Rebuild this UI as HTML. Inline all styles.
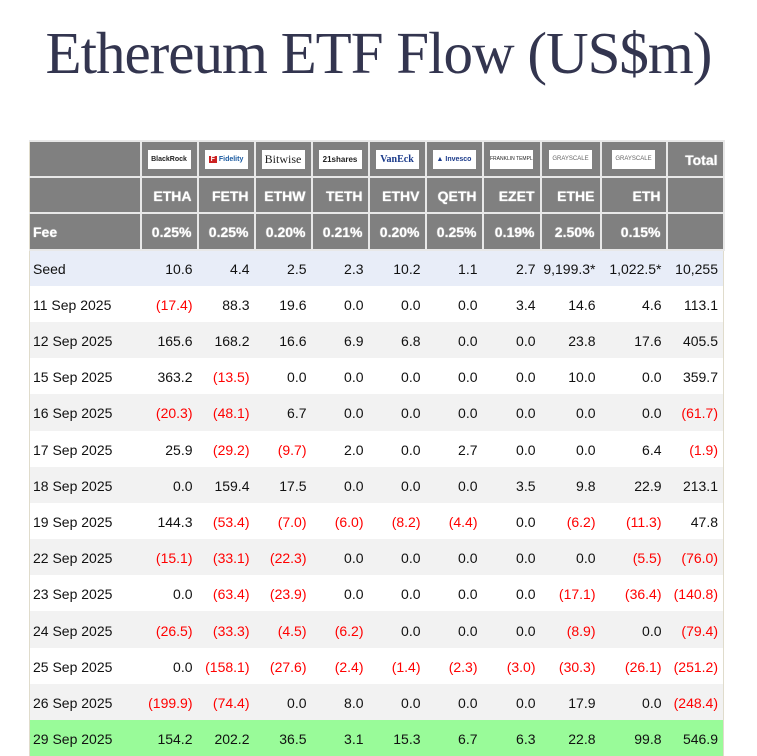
<!DOCTYPE html>
<html><head><meta charset="utf-8"><style>
body{margin:0;width:757px;height:755px;background:#fff;overflow:hidden;position:relative;font-family:"Liberation Sans",Arial,sans-serif}
h1{position:absolute;top:19px;left:0;width:757px;margin:0;text-align:center;font:normal 59px "Liberation Serif",serif;color:#33354f;letter-spacing:-1px}
table{position:absolute;left:29px;top:140px;border-collapse:collapse;table-layout:fixed;border-left:1px solid #e0dccc;border-right:1px solid #e0dccc}
td{height:36.2px;padding:2px 5px 0 0;box-sizing:border-box;font-size:14px;text-align:right;color:#111;white-space:nowrap}
td:first-child{text-align:left;padding-left:3px}
tr.h td{background:#808080;color:#fff;font-weight:bold;border:2px solid #e8e8e8;text-shadow:0 0 1px #fff}
tr.h td:first-child{border-left:0}
tr.seed td{background:#e8edf8}
tr.g td{background:#f2f2f2}
tr.last td{background:#99fb99}
.r{color:#f00}
.logo{display:inline-block;width:43px;height:19px;background:#fff;font-size:7px;line-height:19px;text-align:center;color:#222;font-weight:bold;text-shadow:none;vertical-align:middle;overflow:hidden}
</style></head><body>
<h1>Ethereum ETF Flow (US$m)</h1>
<table>
<colgroup><col style="width:111px"><col style="width:57px"><col style="width:57px"><col style="width:57px"><col style="width:57px"><col style="width:57px"><col style="width:57px"><col style="width:58px"><col style="width:60px"><col style="width:66px"><col style="width:57px"></colgroup>
<tr class="h"><td></td><td style="text-align:center;padding:0"><span class="logo">BlackRock</span></td><td style="text-align:center;padding:0"><span class="logo" style="color:#1a5aa0"><b style="background:#c22;color:#fff;padding:0 2px">F</b> Fidelity</span></td><td style="text-align:center;padding:0"><span class="logo" style="font:12px 'Liberation Serif',serif;line-height:19px">Bitwise</span></td><td style="text-align:center;padding:0"><span class="logo" style="font-size:8px">21shares</span></td><td style="text-align:center;padding:0"><span class="logo" style="color:#1a3a8a;font:bold 10px 'Liberation Serif',serif;line-height:19px">VanEck</span></td><td style="text-align:center;padding:0"><span class="logo" style="color:#1a3a8a">▲ Invesco</span></td><td style="text-align:center;padding:0"><span class="logo" style="font-size:5px;font-weight:normal">FRANKLIN TEMPLETON</span></td><td style="text-align:center;padding:0"><span class="logo" style="font-size:6px;font-weight:normal;color:#666">GRAYSCALE</span></td><td style="text-align:center;padding:0"><span class="logo" style="font-size:6px;font-weight:normal;color:#666">GRAYSCALE</span></td><td>Total</td></tr>
<tr class="h"><td></td><td>ETHA</td><td>FETH</td><td>ETHW</td><td>TETH</td><td>ETHV</td><td>QETH</td><td>EZET</td><td>ETHE</td><td>ETH</td><td></td></tr>
<tr class="h"><td>Fee</td><td>0.25%</td><td>0.25%</td><td>0.20%</td><td>0.21%</td><td>0.20%</td><td>0.25%</td><td>0.19%</td><td>2.50%</td><td>0.15%</td><td></td></tr>
<tr class="seed"><td>Seed</td><td>10.6</td><td>4.4</td><td>2.5</td><td>2.3</td><td>10.2</td><td>1.1</td><td>2.7</td><td>9,199.3*</td><td>1,022.5*</td><td>10,255</td></tr>
<tr><td>11 Sep 2025</td><td class="r">(17.4)</td><td>88.3</td><td>19.6</td><td>0.0</td><td>0.0</td><td>0.0</td><td>3.4</td><td>14.6</td><td>4.6</td><td>113.1</td></tr>
<tr class="g"><td>12 Sep 2025</td><td>165.6</td><td>168.2</td><td>16.6</td><td>6.9</td><td>6.8</td><td>0.0</td><td>0.0</td><td>23.8</td><td>17.6</td><td>405.5</td></tr>
<tr><td>15 Sep 2025</td><td>363.2</td><td class="r">(13.5)</td><td>0.0</td><td>0.0</td><td>0.0</td><td>0.0</td><td>0.0</td><td>10.0</td><td>0.0</td><td>359.7</td></tr>
<tr class="g"><td>16 Sep 2025</td><td class="r">(20.3)</td><td class="r">(48.1)</td><td>6.7</td><td>0.0</td><td>0.0</td><td>0.0</td><td>0.0</td><td>0.0</td><td>0.0</td><td class="r">(61.7)</td></tr>
<tr><td>17 Sep 2025</td><td>25.9</td><td class="r">(29.2)</td><td class="r">(9.7)</td><td>2.0</td><td>0.0</td><td>2.7</td><td>0.0</td><td>0.0</td><td>6.4</td><td class="r">(1.9)</td></tr>
<tr class="g"><td>18 Sep 2025</td><td>0.0</td><td>159.4</td><td>17.5</td><td>0.0</td><td>0.0</td><td>0.0</td><td>3.5</td><td>9.8</td><td>22.9</td><td>213.1</td></tr>
<tr><td>19 Sep 2025</td><td>144.3</td><td class="r">(53.4)</td><td class="r">(7.0)</td><td class="r">(6.0)</td><td class="r">(8.2)</td><td class="r">(4.4)</td><td>0.0</td><td class="r">(6.2)</td><td class="r">(11.3)</td><td>47.8</td></tr>
<tr class="g"><td>22 Sep 2025</td><td class="r">(15.1)</td><td class="r">(33.1)</td><td class="r">(22.3)</td><td>0.0</td><td>0.0</td><td>0.0</td><td>0.0</td><td>0.0</td><td class="r">(5.5)</td><td class="r">(76.0)</td></tr>
<tr><td>23 Sep 2025</td><td>0.0</td><td class="r">(63.4)</td><td class="r">(23.9)</td><td>0.0</td><td>0.0</td><td>0.0</td><td>0.0</td><td class="r">(17.1)</td><td class="r">(36.4)</td><td class="r">(140.8)</td></tr>
<tr class="g"><td>24 Sep 2025</td><td class="r">(26.5)</td><td class="r">(33.3)</td><td class="r">(4.5)</td><td class="r">(6.2)</td><td>0.0</td><td>0.0</td><td>0.0</td><td class="r">(8.9)</td><td>0.0</td><td class="r">(79.4)</td></tr>
<tr><td>25 Sep 2025</td><td>0.0</td><td class="r">(158.1)</td><td class="r">(27.6)</td><td class="r">(2.4)</td><td class="r">(1.4)</td><td class="r">(2.3)</td><td class="r">(3.0)</td><td class="r">(30.3)</td><td class="r">(26.1)</td><td class="r">(251.2)</td></tr>
<tr class="g"><td>26 Sep 2025</td><td class="r">(199.9)</td><td class="r">(74.4)</td><td>0.0</td><td>8.0</td><td>0.0</td><td>0.0</td><td>0.0</td><td>17.9</td><td>0.0</td><td class="r">(248.4)</td></tr>
<tr class="last"><td>29 Sep 2025</td><td>154.2</td><td>202.2</td><td>36.5</td><td>3.1</td><td>15.3</td><td>6.7</td><td>6.3</td><td>22.8</td><td>99.8</td><td>546.9</td></tr>
</table>
</body></html>
